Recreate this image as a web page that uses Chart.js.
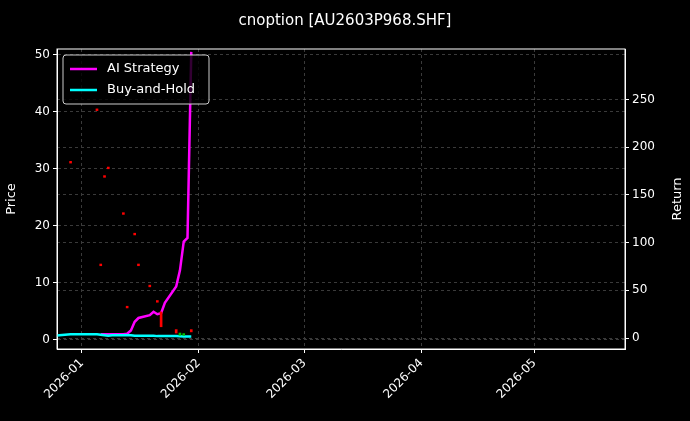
<!DOCTYPE html>
<html><head><meta charset="utf-8">
<script src="https://cdn.jsdelivr.net/npm/chart.js@4/dist/chart.umd.min.js"></script>
<style>html,body{margin:0;background:#000;}#c{display:block}</style>
</head><body>
<div style="width:690px;height:421px"><canvas id="c"></canvas></div>
<script>
const lineDates = ["2025-12-25","2025-12-26","2025-12-29","2025-12-30","2025-12-31","2026-01-05","2026-01-06","2026-01-07","2026-01-08","2026-01-09","2026-01-12","2026-01-13","2026-01-14","2026-01-15","2026-01-16","2026-01-19","2026-01-20","2026-01-21","2026-01-22","2026-01-23","2026-01-26","2026-01-27","2026-01-28","2026-01-29","2026-01-30"]
const aiReturn   = [null,null,null,null,null,null,4,4,4,4,4,4.5,8,17,21,24,27.5,25,26,37,54,71,101,105,300]
const bhReturn   = [2.5,3,4,4,4,4,3.5,3,2.5,3,3,3,3,2.5,2.5,2.5,2.5,2,2,2,2,1.8,1.6,1.5,1.5]
const candleDates = ["2025-12-29","2026-01-05","2026-01-06","2026-01-07","2026-01-08","2026-01-12","2026-01-13","2026-01-15","2026-01-16","2026-01-19","2026-01-21","2026-01-22","2026-01-26","2026-01-27","2026-01-28","2026-01-30"]
const candleLow  = [31,40.2,13,28.5,30,22,5.6,18.4,13,9.3,6.6,2.3,1.2,0.8,0.8,1.4]
const candleHigh = [31.3,40.5,13.3,28.8,30.3,22.3,5.9,18.7,13.3,9.6,6.9,4.9,1.8,1.2,1.1,1.8]
const candleUp   = [0,0,0,0,0,0,0,0,0,0,0,0,0,1,1,0]
const monthTicks = ["2026-01-01","2026-02-01","2026-03-01","2026-04-01","2026-05-01"]

const day0 = Date.UTC(2026,0,1)
const toDay = s => (Date.parse(s+"T00:00:00Z") - day0) / 86400000
const fmtDay = d => new Date(day0 + d*86400000).toISOString().slice(0,7)

const legendInside = {
  id: 'legendInside',
  afterDraw(chart) {
    const ctx = chart.ctx, a = chart.chartArea
    const x = a.left + 6, y = a.top + 6
    ctx.save()
    ctx.fillStyle = 'rgba(0,0,0,0.8)'
    ctx.strokeStyle = '#ccc'
    ctx.lineWidth = 1
    ctx.beginPath(); ctx.roundRect(x, y, 146, 49, 3); ctx.fill(); ctx.stroke()
    ctx.font = '13px "DejaVu Sans"'
    ctx.textBaseline = 'middle'
    const items = [['AI Strategy','#ff00ff'],['Buy-and-Hold','#00ffff']]
    items.forEach((it, i) => {
      const yy = y + 14 + i*21
      ctx.strokeStyle = it[1]; ctx.lineWidth = 2.5
      ctx.beginPath(); ctx.moveTo(x+7, yy); ctx.lineTo(x+34, yy); ctx.stroke()
      ctx.fillStyle = '#fff'; ctx.fillText(it[0], x+44, yy)
    })
    ctx.strokeStyle = '#fff'; ctx.lineWidth = 1
    ctx.strokeRect(a.left, a.top, a.right-a.left, a.bottom-a.top)
    // right axis title, reading bottom to top
    ctx.translate(678, (a.top + a.bottom) / 2)
    ctx.rotate(-Math.PI/2)
    ctx.textAlign = 'center'
    ctx.fillStyle = '#fff'
    ctx.fillText('Return', 0, 0)
    ctx.restore()
  }
}

const gridOpts = {color: '#3a3a3a', tickColor: '#fff', tickLength: 4, offset: false}
const borderOpts = {color: '#fff', dash: [3,3]}

new Chart(document.getElementById('c'), {
  data: {
    datasets: [
      {
        type: 'bar', yAxisID: 'y',
        data: candleDates.map((d,i) => ({x: toDay(d), y: [candleLow[i], candleHigh[i]]})),
        backgroundColor: candleUp.map(u => u ? '#00c000' : '#ff0000'),
        barThickness: 2, grouped: false
      },
      {
        type: 'line', yAxisID: 'y1',
        data: lineDates.map((d,i) => ({x: toDay(d), y: bhReturn[i]})),
        borderColor: '#00ffff', borderWidth: 2.5, pointRadius: 0, tension: 0
      },
      {
        type: 'line', yAxisID: 'y1',
        data: lineDates.map((d,i) => ({x: toDay(d), y: aiReturn[i]})),
        borderColor: '#ff00ff', borderWidth: 2.5, pointRadius: 0, tension: 0
      }
    ]
  },
  options: {
    responsive: true, maintainAspectRatio: false, animation: false,
    plugins: {
      legend: {display: false}, tooltip: {enabled: false},
      title: {display: true, text: 'cnoption [AU2603P968.SHF]', color: '#fff',
        font: {family: 'DejaVu Sans', size: 15, weight: 'normal'}, padding: {top: 12, bottom: 19}}
    },
    scales: {
      x: {
        type: 'linear', min: -6.6, max: 144, offset: false,
        afterBuildTicks: s => { s.ticks = monthTicks.map(m => ({value: toDay(m)})) },
        afterFit: s => { s.height = 72 },
        ticks: {color: '#fff', maxRotation: 45, minRotation: 45, font: {family: 'DejaVu Sans', size: 12},
          callback: v => fmtDay(v)},
        grid: gridOpts, border: borderOpts
      },
      y: {
        position: 'left', min: -1.6, max: 51,
        afterBuildTicks: s => { s.ticks = [0,10,20,30,40,50].map(v => ({value: v})) },
        afterFit: s => { s.width = 57 },
        ticks: {color: '#fff', font: {family: 'DejaVu Sans', size: 12}},
        title: {display: true, text: 'Price', color: '#fff', font: {family: 'DejaVu Sans', size: 13}},
        grid: gridOpts, border: borderOpts
      },
      y1: {
        position: 'right', min: -11.5, max: 303,
        afterBuildTicks: s => { s.ticks = [0,50,100,150,200,250].map(v => ({value: v})) },
        afterFit: s => { s.width = 65 },
        ticks: {color: '#fff', font: {family: 'DejaVu Sans', size: 12}},
        grid: gridOpts, border: borderOpts
      }
    }
  },
  plugins: [legendInside]
})
</script>
</body></html>
